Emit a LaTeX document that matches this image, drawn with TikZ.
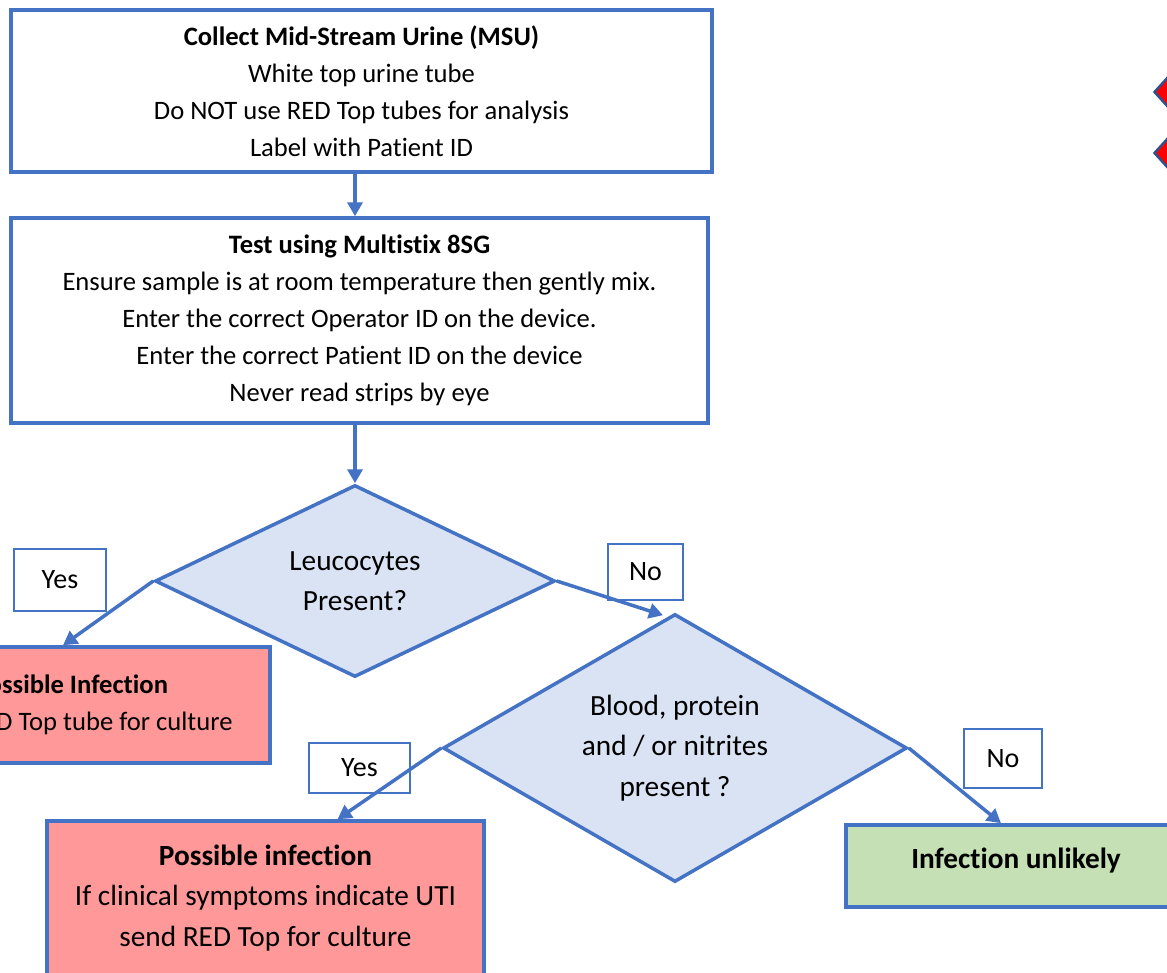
\documentclass[tikz,border=0pt]{standalone}
\usepackage{fontspec}
\setmainfont{Carlito}[Ligatures=NoCommon]
\usetikzlibrary{shapes.geometric,arrows.meta}

\definecolor{ublue}{RGB}{68,114,196}
\definecolor{dkblue}{RGB}{47,82,143}
\definecolor{dfill}{RGB}{218,227,243}
\definecolor{rfill}{RGB}{255,153,153}
\definecolor{gfill}{RGB}{197,224,180}

\begin{document}
\begin{tikzpicture}[x=1pt,y=-1pt,
    box/.style={draw=ublue, line width=3.5pt, fill=white, align=center, inner sep=0pt,
      font=\fontsize{26.6}{37}\selectfont},
    bigtext/.style={font=\fontsize{29.3}{40.5}\selectfont},
    decision/.style={diamond, aspect=2, draw=ublue, line width=3.5pt, fill=dfill,
      align=center, inner sep=0pt, bigtext},
    answer/.style={draw=ublue, line width=2pt, fill=white, inner sep=0pt,
      font=\fontsize{28}{34}\selectfont},
    arr/.style={draw=ublue, line width=3.5pt, -{Triangle[length=14pt,width=15pt]}}]
  \useasboundingbox (0,0) rectangle (1167,972);
  \clip (0,0) rectangle (1167,972);

  % steps
  \node (collect) [box, minimum width=701pt, minimum height=162pt] at (361.5,91)
    {\textbf{Collect Mid-Stream Urine (MSU)}\\White top urine tube\\
     Do NOT use RED Top tubes for analysis\\Label with Patient ID};
  \node (test) [box, minimum width=697pt, minimum height=205pt] at (359.5,320.5)
    {\textbf{Test using Multistix 8SG}\\
     Ensure sample is at room temperature then gently mix.\\
     Enter the correct Operator ID on the device.\\
     Enter the correct Patient ID on the device\\Never read strips by eye};

  % decisions
  \node (leuco) [decision, minimum width=400pt, minimum height=192pt] at (355,581)
    {Leucocytes\\Present?};
  \node (blood) [decision, minimum width=464pt, minimum height=268pt] at (675,748)
    {Blood, protein\\and / or nitrites\\present ?};

  % outcomes
  \node (infectA) [box, fill=rfill, minimum width=398pt, minimum height=116pt] at (71,705)
    {\textbf{Possible Infection}\\Send RED Top tube for culture};
  \node (infectB) [box, bigtext, fill=rfill, minimum width=437pt, minimum height=154pt] at (265.5,898)
    {\textbf{Possible infection}\\If clinical symptoms indicate UTI\\send RED Top for culture};
  \node (unlikely) [box, bigtext, fill=gfill, minimum width=340pt, minimum height=82pt,
    text height=18pt, text depth=14pt] at (1016,866) {\textbf{Infection unlikely}};

  % answers
  \node (yesA) [answer, minimum width=92pt, minimum height=62pt] at (60,580) {Yes};
  \node (noA) [answer, minimum width=75pt, minimum height=56pt] at (645.5,572) {No};
  \node (yesB) [answer, minimum width=101pt, minimum height=50pt] at (359.5,768) {Yes};
  \node (noB) [answer, minimum width=78pt, minimum height=59pt] at (1003,758.5) {No};

  % markers at the edge
  \foreach \y [count=\n] in {92,153}
    \node (mark\n) [diamond, draw=dkblue, line width=2.5pt, fill=red,
      minimum width=40pt, minimum height=44pt, inner sep=0pt] at (1174,\y) {};

  % connectors
  \draw[arr] (collect.south -| leuco.north) -- (test.north -| leuco.north);
  \draw[arr] (test.south -| leuco.north) -- (leuco.north);
  \draw[arr] (leuco.west) -- ([xshift=-8pt]infectA.north);
  \draw[arr] (leuco.east) -- ([xshift=-12pt,yshift=-3pt]blood.north);
  \draw[arr] (blood.west) -- ([xshift=72pt]infectB.north);
  \draw[arr] (blood.east) -- ([xshift=-15pt]unlikely.north);
\end{tikzpicture}
\end{document}
